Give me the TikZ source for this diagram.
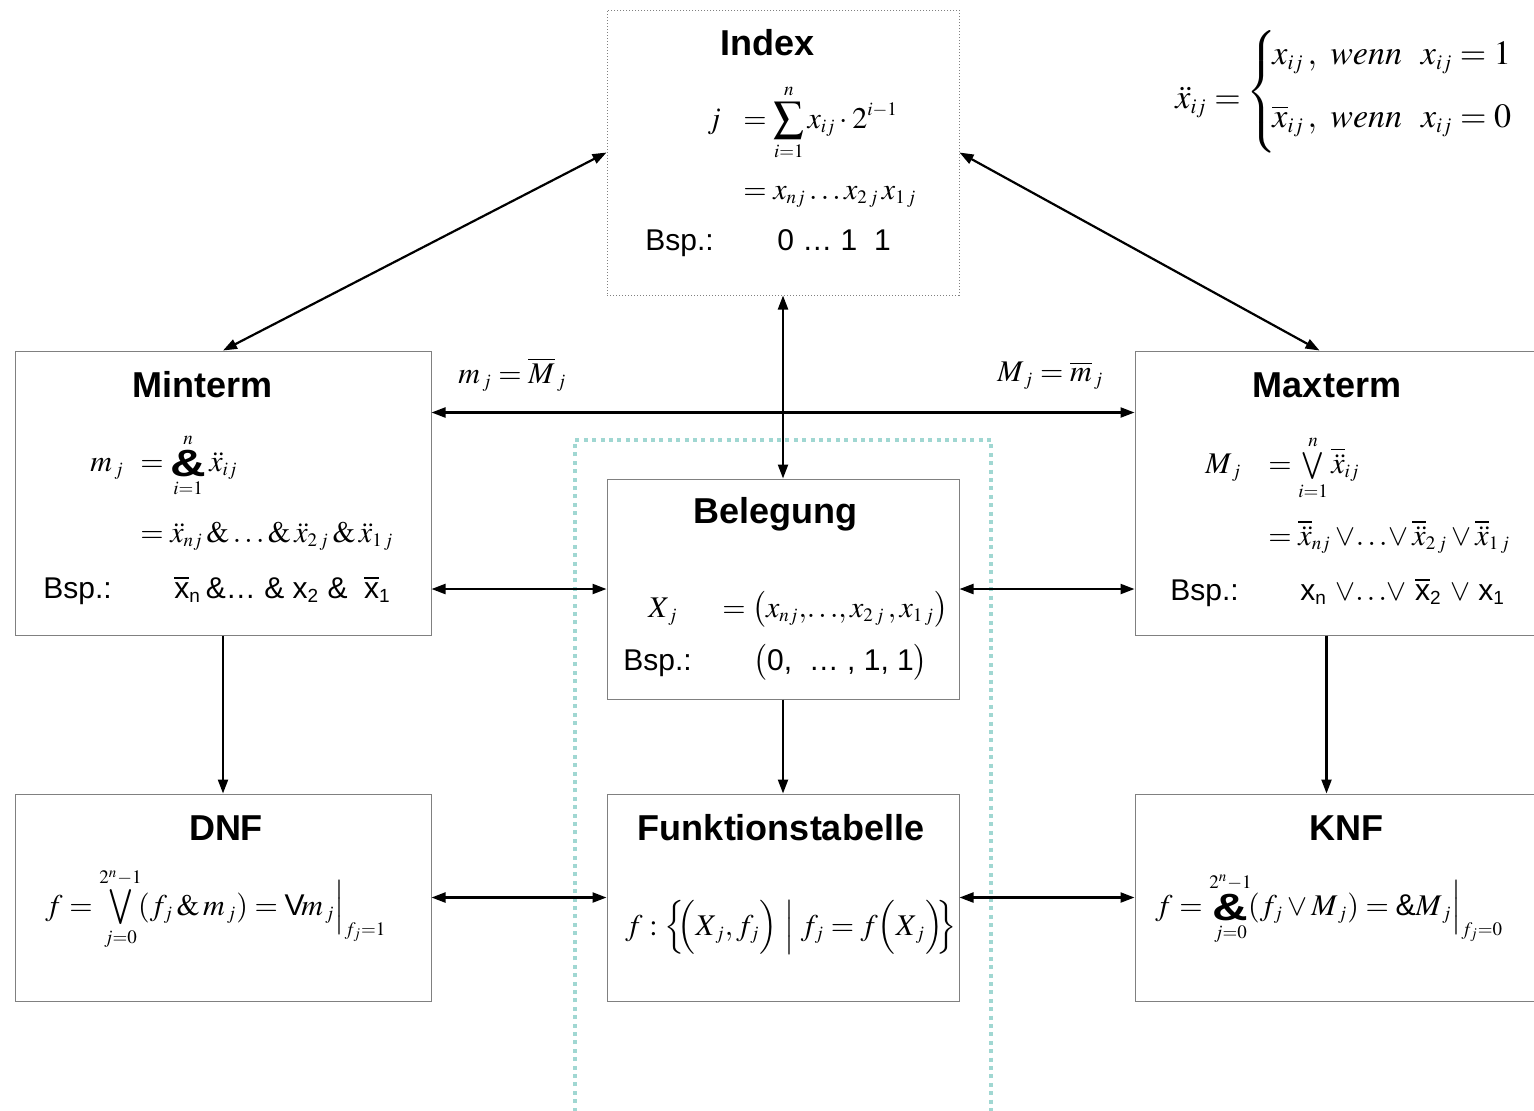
\documentclass[tikz,border=0pt]{standalone}
\usepackage{amsmath}
\usepackage{mathptmx}
\usepackage[no-math]{fontspec}
\setmainfont{Liberation Sans}
\usetikzlibrary{arrows.meta,calc}
\DeclareMathSizes{15}{15}{9.5}{7.5}
\DeclareMathSizes{17}{17}{10.5}{8}
\definecolor{tealdot}{RGB}{160,215,210}
\definecolor{boxgray}{RGB}{128,128,128}
\newcommand{\bigand}{\mathop{\vcenter{\hbox{\scalebox{1.3}[1]{\fontsize{19}{19}\selectfont\bfseries\&}}}}}
\newcommand{\bigor}{\mathop{\vcenter{\hbox{\scalebox{1.1}[1.3]{$\bigvee$}}}}}
\newcommand{\olx}[1]{$\overline{\mbox{#1}}$}
\tikzset{
  box/.style={draw=boxgray, line width=0.5pt, inner sep=0pt},
  ttl/.style={font=\fontsize{18}{20}\selectfont\bfseries, inner sep=0pt, anchor=base},
  mth/.style={font=\fontsize{15}{18}\selectfont, inner sep=0pt, anchor=base west},
  bigm/.style={font=\fontsize{17}{21}\selectfont, inner sep=0pt, anchor=base west},
  txt/.style={font=\fontsize{15}{18}\selectfont, inner sep=0pt, anchor=base west},
  dbl/.style={{Triangle[length=7pt,width=5pt]}-{Triangle[length=7pt,width=5pt]}, line width=1.1pt},
  one/.style={-{Triangle[length=7pt,width=5pt]}, line width=1.1pt},
}
\begin{document}
\begin{tikzpicture}[x=0.5pt,y=-0.5pt]
\clip (0,0) rectangle (1534,1110);
% dotted frame
\draw[tealdot, line width=2pt, dash pattern=on 2pt off 2.2pt] (575,1120) -- (575,440) -- (991,440) -- (991,1120);

% boxes
\node[box, draw=gray, densely dotted, minimum width=176pt, minimum height=142.5pt] (index) at (783,152.5) {};
\node[box, minimum width=208pt, minimum height=142pt] (minterm) at (223,493) {};
\node[box, minimum width=208pt, minimum height=142pt] (maxterm) at (1343,493) {};
\node[box, minimum width=176pt, minimum height=110pt] (belegung) at (783,589) {};
\node[box, minimum width=208pt, minimum height=103.5pt] (dnf) at (223,897.5) {};
\node[box, minimum width=176pt, minimum height=103.5pt] (funk) at (783,897.5) {};
\node[box, minimum width=208pt, minimum height=103.5pt] (knf) at (1343,897.5) {};

% Index content
\node[ttl] (indext) at (767,55) {Index};
\node[mth] (ij) at (707,128) {$j$};
\node[mth] (ieq1) at (743,128) {$=\displaystyle\sum_{i=1}^{n} x_{ij}\cdot 2^{i-1}$};
\node[mth] (ieq2) at (743,199) {$= x_{nj}\ldots x_{2\,j}\, x_{1\,j}$};
\node[txt] (ibsp) at (645,250) {Bsp.:};
\node[txt] (iex) at (777,250) {0 … 1\ \ 1};

% top right definition
\node[bigm] (xdd) at (1175,108) {$\ddot{x}_{ij} =$};
\node[font=\fontsize{17}{21}\selectfont, inner sep=0pt, anchor=west] (brace) at (1246,92) {$\left\{\vrule height 24pt depth 24pt width 0pt\right.$};
\node[bigm] (row1) at (1272,64) {$x_{ij}\,,\ \mathit{wenn}\ \ x_{ij} =1$};
\node[bigm] (row2) at (1272,127) {$\overline{x}_{ij}\,,\ \mathit{wenn}\ \ x_{ij} =0$};

% Minterm content
\node[ttl] (mintt) at (202.5,397) {Minterm};
\node[mth] (mmj) at (90,471) {$m_{\,j}$};
\node[mth] (mmeq1) at (140,471) {$= \bigand\limits_{i=1}^{n} \ddot{x}_{ij}$};
\node[mth] (mmeq2) at (140,542) {$= \ddot{x}_{nj}\,\&\ldots\&\,\ddot{x}_{2\,j}\,\&\,\ddot{x}_{1\,j}$};
\node[txt] (mbsp) at (43,598) {Bsp.:};
\node[txt] (mex) at (174,598) {\olx{x}\textsubscript{n}\,\&… \& x\textsubscript{2} \&\ \ \olx{x}\textsubscript{1}};

% Maxterm content
\node[ttl] (maxtt) at (1327,397) {Maxterm};
\node[mth] (Mmj) at (1205,473) {$M_{\,j}$};
\node[mth] (Meq1) at (1268,473) {$= \bigvee\limits_{i=1}^{n} \overline{\ddot{x}}_{ij}$};
\node[mth] (Meq2) at (1268,545) {$= \overline{\ddot{x}}_{nj}\vee\!\ldots\!\vee \overline{\ddot{x}}_{2\,j}\vee \overline{\ddot{x}}_{1\,j}$};
\node[txt] (Mbsp) at (1170,600) {Bsp.:};
\node[txt] (Mex) at (1300,600) {x\textsubscript{n} $\vee\!\ldots\!\vee$ \olx{x}\textsubscript{2} $\vee$ x\textsubscript{1}};

% Belegung content
\node[ttl] (belt) at (775,523) {Belegung};
\node[mth] (bxj) at (648,617) {$X_{\,j}$};
\node[mth] (beq) at (722,617) {$= \bigl(x_{nj},\!\ldots\!,x_{2\,j}\,,x_{1\,j}\bigr)$};
\node[txt] (bbsp) at (623,670) {Bsp.:};
\node[txt] (bex) at (753,670) {$\bigl(\mbox{0,\ \ … , 1,\ 1}\bigr)$};

% DNF content
\node[ttl] (dnft) at (226,840) {DNF};
\node[mth] (dnff) at (45,915) {$f = \bigor\limits_{j=0}^{2^n-1}\!(f_j \,\&\, m_{\,j}) = \mbox{V}\! m_{\,j}\Big|_{f_j=1}$};

% Funktionstabelle content
\node[ttl] (funkt) at (781,840) {Funktionstabelle};
\node[mth] (funkf) at (625,935) {$f : \Bigl\{\!\!\Bigl(X_{\,j}, f_j\Bigr) \Bigm| f_j = f\Bigl(X_{\,j}\Bigr)\!\!\Bigr\}$};

% KNF content
\node[ttl] (knft) at (1346,840) {KNF};
\node[mth] (knff) at (1155,915) {$f = \bigand\limits_{j=0}^{2^n-1}\!(f_j \vee M_{\,j}) = \mbox{\&}M_{\,j}\Big|_{f_j=0}$};

% labels
\node[mth] (lblm) at (458,383) {$m_{\,j} = \overline{M}_{\,j}$};
\node[mth] (lblM) at (997,381) {$M_{\,j} = \overline{m}_{\,j}$};

% connectors
\draw[dbl] (index.west) -- (minterm.north);
\draw[dbl] (index.east) -- ($(maxterm.north west)+(185,0)$);
\draw[dbl] (index.south) -- (belegung.north);
\draw[dbl] ($(minterm.north east)+(0,62)$) -- ($(maxterm.north west)+(0,62)$);
\draw[dbl] (belegung.west -| minterm.east) -- (belegung.west);
\draw[dbl] (belegung.east) -- (belegung.east -| maxterm.west);
\draw[one] (minterm.south) -- (dnf.north);
\draw[one] (belegung.south) -- (funk.north);
\draw[one] ($(maxterm.south west)+(192,0)$) -- ($(knf.north west)+(192,0)$);
\draw[dbl] (dnf.east) -- (funk.west);
\draw[dbl] (funk.east) -- (knf.west);
\end{tikzpicture}
\end{document}
